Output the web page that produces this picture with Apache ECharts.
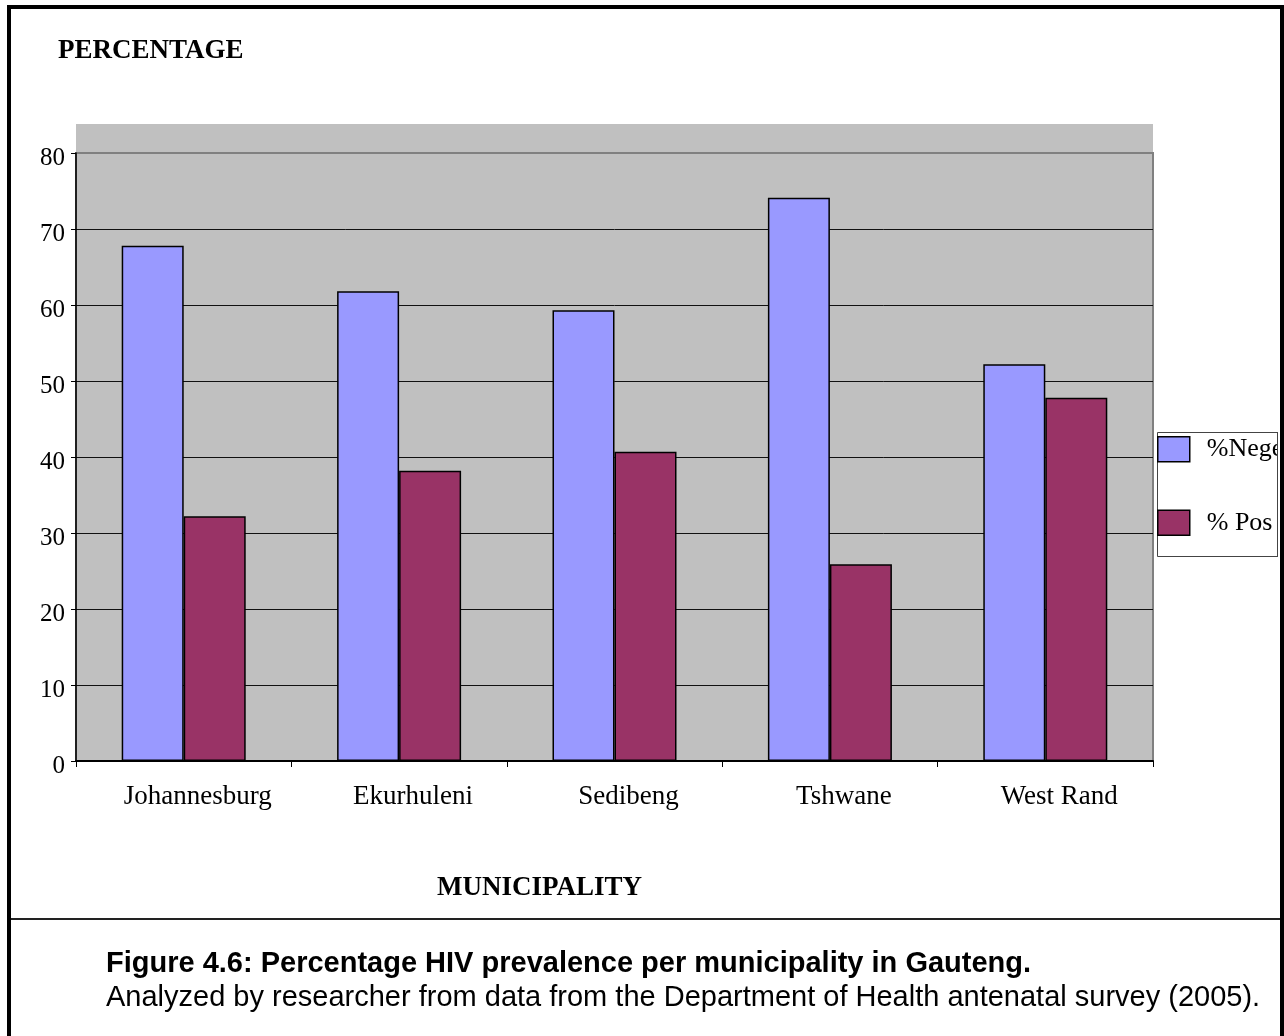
<!DOCTYPE html>
<html>
<head>
<meta charset="utf-8">
<script src="https://cdn.jsdelivr.net/npm/echarts@6/dist/echarts.min.js"></script>
<style>
html,body{margin:0;padding:0;background:#fff;}
#chart{width:1284px;height:1036px;}
</style>
</head>
<body>
<div id="chart"></div>
<script>
const categories = ['Johannesburg', 'Ekurhuleni', 'Sedibeng', 'Tshwane', 'West Rand'];
const negativeValues = [67.8, 61.8, 59.3, 74.1, 52.2];
const positiveValues = [32.2, 38.2, 40.7, 25.9, 47.8];
const seriesNames = ['%Negetive', '% Positive'];
const yTicks = { min: 0, max: 80, interval: 10 };
const yAxisTitle = 'PERCENTAGE';
const xAxisTitle = 'MUNICIPALITY';
const captionTitle = 'Figure 4.6: Percentage HIV prevalence per municipality in Gauteng.';
const captionText = 'Analyzed by researcher from data from the Department of Health antenatal survey (2005).';

const chart = echarts.init(document.getElementById('chart'), null, { renderer: 'canvas' });
const serif = 'Liberation Serif, Times New Roman, serif';
const sans = 'Liberation Sans, Arial, sans-serif';

chart.setOption({
  animation: false,
  backgroundColor: '#ffffff',
  grid: {
    left: 76, right: 131, top: 153, bottom: 275,
    show: true, backgroundColor: '#c0c0c0', borderColor: '#808080', borderWidth: 2
  },
  legend: {
    orient: 'vertical',
    left: 1157, top: 436,
    itemWidth: 32, itemHeight: 25, itemGap: 47,
    padding: 0,
    icon: 'rect',
    itemStyle: { borderColor: '#000', borderWidth: 1.5 },
    textStyle: { fontFamily: serif, fontSize: 26, color: '#000', padding: [0, 0, 0, 12] },
    data: seriesNames
  },
  xAxis: {
    type: 'category',
    data: categories,
    boundaryGap: true,
    axisLine: { show: true, lineStyle: { color: '#000', width: 2 } },
    axisTick: { show: true, length: 6, lineStyle: { color: '#000', width: 1 } },
    axisLabel: { fontFamily: serif, fontSize: 27, color: '#000', margin: 22, padding: [0, 0, 0, 28] },
    splitLine: { show: false }
  },
  yAxis: {
    type: 'value',
    min: yTicks.min, max: yTicks.max, interval: yTicks.interval,
    axisLine: { show: true, lineStyle: { color: '#000', width: 1.5 } },
    axisTick: { show: true, length: 5, lineStyle: { color: '#000', width: 1 } },
    axisLabel: { fontFamily: serif, fontSize: 25, color: '#000', margin: 11, verticalAlign: 'top', lineHeight: 10 },
    splitLine: { show: true, showMinLine: false, showMaxLine: false, lineStyle: { color: '#111', width: 1 } }
  },
  series: [
    {
      name: seriesNames[0], type: 'bar', data: negativeValues,
      barWidth: 62, barGap: '0%',
      itemStyle: { color: '#9999ff', borderColor: '#000', borderWidth: 1.5 }
    },
    {
      name: seriesNames[1], type: 'bar', data: positiveValues,
      barWidth: 62, barGap: '0%',
      itemStyle: { color: '#993366', borderColor: '#000', borderWidth: 1.5 }
    }
  ],
  graphic: [
    { type: 'rect', z: -1, silent: true, shape: { x: 76, y: 124, width: 1077, height: 29 }, style: { fill: '#c0c0c0' } },
    { type: 'rect', z: 3, silent: true, shape: { x: 1157.5, y: 432.5, width: 120, height: 124 }, style: { fill: '#fff', stroke: '#444', lineWidth: 1 } },
    { type: 'rect', z: 100, silent: true, shape: { x: 1278, y: 420, width: 6, height: 150 }, style: { fill: '#fff' } },
    { type: 'rect', z: 100, silent: true, shape: { x: 1273, y: 505, width: 5, height: 40 }, style: { fill: '#fff' } },
    { type: 'line', z: 101, silent: true, shape: { x1: 1277.5, y1: 432, x2: 1277.5, y2: 557 }, style: { stroke: '#444', lineWidth: 1 } },
    { type: 'text', z: 100, silent: true, style: { x: 58, y: 51, text: yAxisTitle, font: 'bold 27px ' + serif, fill: '#000', verticalAlign: 'middle' } },
    { type: 'text', z: 100, silent: true, style: { x: 437, y: 888, text: xAxisTitle, font: 'bold 27px ' + serif, fill: '#000', verticalAlign: 'middle' } },
    { type: 'line', z: 100, silent: true, shape: { x1: 9, y1: 919, x2: 1282, y2: 919 }, style: { stroke: '#222', lineWidth: 2 } },
    { type: 'text', z: 100, silent: true, style: { x: 106, y: 964, text: captionTitle, font: 'bold 29px ' + sans, fill: '#000', verticalAlign: 'middle' } },
    { type: 'text', z: 100, silent: true, style: { x: 106, y: 998, text: captionText, font: '29px ' + sans, fill: '#000', verticalAlign: 'middle' } },
    { type: 'rect', z: 102, silent: true, shape: { x: 9, y: 7, width: 1273, height: 1100 }, style: { fill: 'none', stroke: '#000', lineWidth: 4 } }
  ]
});
</script>
</body>
</html>
